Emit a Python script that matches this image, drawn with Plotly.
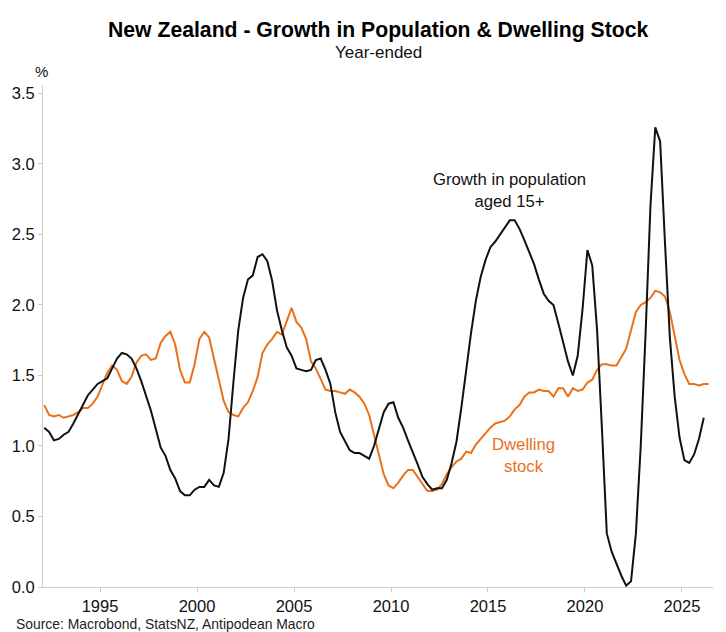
import plotly.graph_objects as go

# quarterly observation dates (decimal years)
start_year = 1992.125
pop_growth_15plus = [
    1.13, 1.10, 1.04, 1.05, 1.08, 1.10, 1.16, 1.23, 1.30, 1.36, 1.40, 1.44,
    1.46, 1.48, 1.55, 1.62, 1.66, 1.65, 1.62, 1.55, 1.46, 1.36, 1.25, 1.12,
    0.99, 0.93, 0.83, 0.77, 0.68, 0.65, 0.65, 0.69, 0.71, 0.71, 0.76, 0.72,
    0.71, 0.81, 1.05, 1.45, 1.82, 2.05, 2.18, 2.21, 2.34, 2.36, 2.31, 2.17,
    1.96, 1.82, 1.70, 1.64, 1.55, 1.54, 1.53, 1.54, 1.61, 1.62, 1.54, 1.44,
    1.24, 1.10, 1.04, 0.97, 0.95, 0.95, 0.93, 0.91, 1.00, 1.13, 1.24, 1.30,
    1.31, 1.20, 1.13, 1.04, 0.96, 0.87, 0.78, 0.73, 0.69, 0.70, 0.70, 0.76,
    0.88, 1.03, 1.27, 1.54, 1.80, 2.03, 2.20, 2.32, 2.41, 2.45, 2.50, 2.55,
    2.60, 2.60, 2.54, 2.46, 2.37, 2.29, 2.18, 2.08, 2.03, 2.00, 1.87, 1.73,
    1.60, 1.50, 1.64, 1.97, 2.39, 2.28, 1.82, 1.12, 0.38, 0.25, 0.16, 0.08,
    0.01, 0.04, 0.38, 1.00, 1.80, 2.70, 3.26, 3.16, 2.44, 1.77, 1.35, 1.06,
    0.90, 0.88, 0.94, 1.05, 1.20,
]
dwelling_stock = [
    1.29, 1.22, 1.21, 1.22, 1.20, 1.21, 1.22, 1.24, 1.27, 1.27, 1.30, 1.35,
    1.43, 1.52, 1.57, 1.54, 1.46, 1.44, 1.49, 1.59, 1.64, 1.65, 1.61, 1.62,
    1.73, 1.78, 1.81, 1.72, 1.54, 1.45, 1.45, 1.58, 1.76, 1.81, 1.77, 1.63,
    1.47, 1.32, 1.24, 1.22, 1.21, 1.27, 1.31, 1.39, 1.49, 1.66, 1.72, 1.76,
    1.81, 1.79, 1.88, 1.98, 1.88, 1.84, 1.76, 1.60, 1.55, 1.47, 1.40, 1.39,
    1.39, 1.38, 1.37, 1.40, 1.38, 1.35, 1.30, 1.22, 1.08, 0.95, 0.80, 0.72,
    0.70, 0.74, 0.79, 0.83, 0.83, 0.78, 0.73, 0.68, 0.68, 0.69, 0.73, 0.80,
    0.85, 0.89, 0.91, 0.96, 0.95, 1.01, 1.05, 1.09, 1.13, 1.16, 1.17, 1.18,
    1.21, 1.26, 1.29, 1.35, 1.38, 1.38, 1.40, 1.39, 1.39, 1.35, 1.41, 1.41,
    1.35, 1.41, 1.39, 1.40, 1.45, 1.47, 1.54, 1.58, 1.58, 1.57, 1.57, 1.63,
    1.69, 1.82, 1.95, 2.00, 2.02, 2.05, 2.10, 2.09, 2.06, 1.95, 1.77, 1.61,
    1.51, 1.44, 1.44, 1.43, 1.44, 1.44,
]
x_tick_years = [1995, 2000, 2005, 2010, 2015, 2020, 2025]
y_tick_values = [0.0, 0.5, 1.0, 1.5, 2.0, 2.5, 3.0, 3.5]

pop_dates = [start_year + 0.25 * i for i in range(len(pop_growth_15plus))]
dw_dates = [start_year + 0.25 * i for i in range(len(dwelling_stock))]

BLACK = "#111111"
ORANGE = "#E8711A"
FONT = "Liberation Sans, Arial, sans-serif"

fig = go.Figure()
fig.add_trace(go.Scatter(x=dw_dates, y=dwelling_stock, mode="lines",
                         line=dict(color=ORANGE, width=2), name="Dwelling stock"))
fig.add_trace(go.Scatter(x=pop_dates, y=pop_growth_15plus, mode="lines",
                         line=dict(color=BLACK, width=2), name="Growth in population aged 15+"))

fig.update_layout(
    width=726, height=632,
    margin=dict(l=43, r=13, t=85, b=45),
    paper_bgcolor="white", plot_bgcolor="white",
    showlegend=False,
    font=dict(family=FONT, color="#111111"),
    xaxis=dict(range=[1992.06, 2026.6], tickvals=x_tick_years,
               ticktext=[str(v) for v in x_tick_years],
               showgrid=False, zeroline=False,
               showline=True, linecolor="#cccccc", linewidth=1,
               ticks="outside", ticklen=4, tickcolor="#cccccc",
               tickfont=dict(size=16.5, family=FONT, color="#111111")),
    yaxis=dict(range=[0, 3.56], tickvals=y_tick_values,
               ticktext=[f"{v:.1f}" for v in y_tick_values],
               showgrid=False, zeroline=False,
               showline=True, linecolor="#cccccc", linewidth=1,
               ticks="outside", ticklen=4, tickcolor="#cccccc",
               tickfont=dict(size=16.5, family=FONT, color="#111111")),
    annotations=[
        dict(text="<b>New Zealand - Growth in Population & Dwelling Stock</b>",
             xref="paper", yref="paper", x=0.5, y=1.1096, xanchor="center", yanchor="middle",
             showarrow=False, font=dict(size=21.2, family=FONT, color="#000000")),
        dict(text="Year-ended", xref="paper", yref="paper", x=0.5, y=1.0657,
             xanchor="center", yanchor="middle", showarrow=False,
             font=dict(size=17, family=FONT, color="#111111")),
        dict(text="%", xref="paper", yref="paper", x=-0.0015, y=1.026,
             xanchor="center", yanchor="middle", showarrow=False,
             font=dict(size=15, family=FONT, color="#111111")),
        dict(text="Source: Macrobond, StatsNZ, Antipodean Macro", xref="paper", yref="paper",
             x=-0.0433, y=-0.0737, xanchor="left", yanchor="middle", showarrow=False,
             font=dict(size=13.9, family=FONT, color="#222222")),
        dict(text="Growth in population<br>aged 15+", xref="x", yref="y",
             x=2016.13, y=2.81, xanchor="center", yanchor="middle", showarrow=False,
             font=dict(size=16.7, family=FONT, color="#111111")),
        dict(text="Dwelling<br>stock", xref="x", yref="y",
             x=2016.85, y=0.935, xanchor="center", yanchor="middle", showarrow=False,
             font=dict(size=16.7, family=FONT, color=ORANGE)),
    ],
)

fig.write_html("out.html")
